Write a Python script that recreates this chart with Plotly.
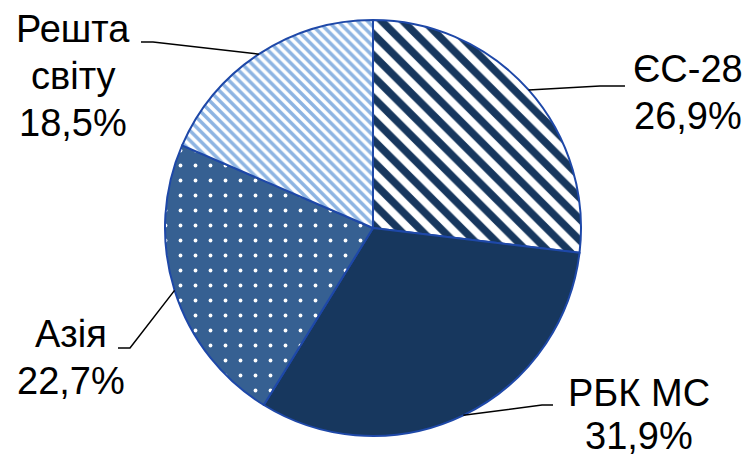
import math
import plotly.graph_objects as go

labels = ["ЄС-28", "РБК МС", "Азія", "Решта світу"]
values = [26.9, 31.9, 22.7, 18.5]
pct_text = ["26,9%", "31,9%", "22,7%", "18,5%"]
name_lines = [["ЄС-28"], ["РБК МС"], ["Азія"], ["Решта", "світу"]]

bg_colors = ["#FFFFFF", "#17375E", "#366092", "#FFFFFF"]
fg_colors = ["#17375E", "#17375E", "#FFFFFF", "#8DB4E2"]
shapes_pat = ["\\", "", ".", "\\"]
pat_size = [15, 8, 15, 7]
pat_solid = [0.5, 0.3, 0.05, 0.5]

W, H = 754, 459
OFF = 8  # default page margin of the HTML body
CX, CY, R = 373, 228, 208
FS = 38

# label layout (pixels): text x center, line baselines, leader-line bend/end points
label_x = [688, 639, 71, 73]
label_base = [[83, 130], [407, 450], [348, 395], [43, 90, 137]]
leader_pts = [[(600, 86), (625, 86)],
              [(542, 405), (553, 405)],
              [(130, 348), (118, 348)],
              [(153, 42), (141, 42)]]


def px(x):
    return (x - OFF) / W


def py(y):
    return 1 - (y - OFF) / H


fig = go.Figure(go.Pie(
    labels=labels,
    values=values,
    sort=False,
    direction="clockwise",
    rotation=0,
    textinfo="none",
    hoverinfo="label+percent",
    showlegend=False,
    domain=dict(x=[px(CX - R), px(CX + R)], y=[py(CY + R), py(CY - R)]),
    marker=dict(
        colors=bg_colors,
        line=dict(color="#1E48A8", width=2),
        pattern=dict(shape=shapes_pat, fgcolor=fg_colors, bgcolor=bg_colors,
                     size=pat_size, solidity=pat_solid, fillmode="overlay",
                     fgopacity=1),
    ),
))

total = sum(values)
cum = 0
shapes = []
annotations = []
for i, v in enumerate(values):
    mid = (cum + v / 2) / total * 2 * math.pi
    cum += v
    ex = CX + R * math.sin(mid)
    ey = CY - R * math.cos(mid)
    pts = [(ex, ey)] + leader_pts[i]
    path = "M " + " L ".join(f"{px(x):.5f},{py(y):.5f}" for x, y in pts)
    shapes.append(dict(type="path", xref="paper", yref="paper", path=path,
                       line=dict(color="black", width=1.5)))
    lines = name_lines[i] + [pct_text[i]]
    for txt, base in zip(lines, label_base[i]):
        annotations.append(dict(x=px(label_x[i]), y=py(base - 14),
                                xref="paper", yref="paper", text=txt,
                                showarrow=False, xanchor="center", yanchor="middle",
                                align="center",
                                font=dict(family="Liberation Sans, Arial", size=FS,
                                          color="black")))

fig.update_layout(
    width=W, height=H,
    margin=dict(l=0, r=0, t=0, b=0),
    paper_bgcolor="white",
    plot_bgcolor="white",
    shapes=shapes,
    annotations=annotations,
)

fig.write_html("out.html")
